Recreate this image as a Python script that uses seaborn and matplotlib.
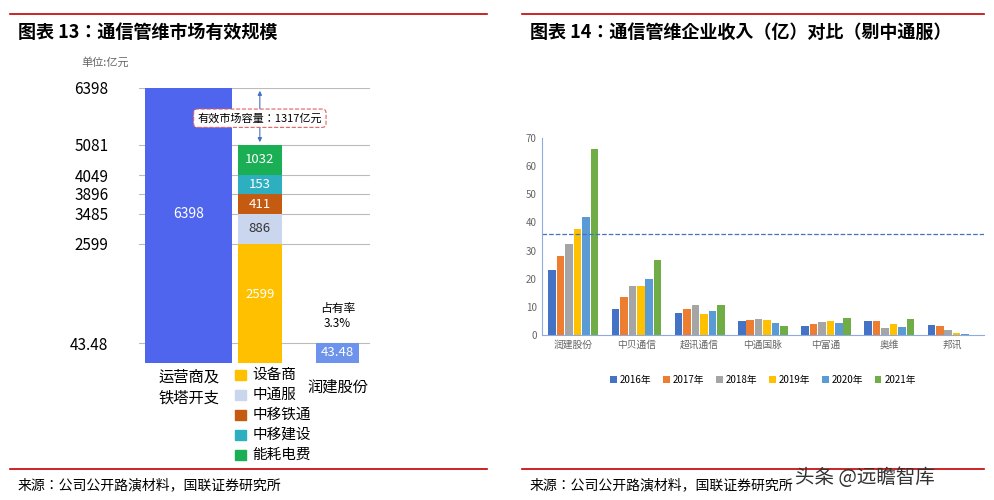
import numpy as np
import pandas as pd
import matplotlib.pyplot as plt
import seaborn as sns
from matplotlib.scale import FuncScale
from matplotlib.patches import Rectangle

plt.rcParams['font.family'] = 'sans-serif'
plt.rcParams['font.sans-serif'] = ['Noto Sans CJK JP', 'Noto Sans CJK SC', 'DejaVu Sans']
plt.rcParams['axes.unicode_minus'] = False

# 左图数据
left_ticks = [43.48, 2599, 3485, 3896, 4049, 5081, 6398]
stack_labels = ["设备商", "中通服", "中移铁通", "中移建设", "能耗电费"]
stack_values = [2599, 886, 411, 153, 1032]
stack_colors = ["#FFC000", "#C9D6EE", "#C55A11", "#2EAFC0", "#1AAF54"]
total_value = 6398
runjian_value = 43.48

# 右图数据
companies = ["润建股份", "中贝通信", "超讯通信", "中通国脉", "中富通", "奥维", "邦讯"]
years = ["2016年", "2017年", "2018年", "2019年", "2020年", "2021年"]
revenue = {
    "2016年": [23, 9.3, 7.8, 5.0, 3.3, 4.9, 3.7],
    "2017年": [28, 13.5, 9.3, 5.5, 3.9, 5.1, 3.1],
    "2018年": [32.5, 17.3, 10.8, 5.8, 4.7, 2.5, 1.7],
    "2019年": [37.5, 17.5, 7.3, 5.3, 5.1, 3.8, 0.6],
    "2020年": [42, 19.8, 8.5, 4.3, 4.3, 2.8, 0.2],
    "2021年": [66, 26.5, 10.8, 3.2, 6.2, 5.7, 0.05],
}
threshold = 36
year_colors = ["#4472C4", "#ED7D31", "#A5A5A5", "#FFC000", "#5B9BD5", "#70AD47"]

fig = plt.figure(figsize=(9.94, 5), dpi=100)
red = "#C00000"

# 标题、分隔线、来源
for x0, x1, title in [(0.01, 0.49, "图表 13：通信管维市场有效规模"),
                      (0.525, 0.99, "图表 14：通信管维企业收入（亿）对比（剔中通服）")]:
    fig.add_artist(plt.Line2D([x0, x1], [0.972, 0.972], color=red, lw=1.2))
    fig.text(x0 + 0.008, 0.935, title, fontsize=13, fontweight="bold", style="italic", va="center")
    fig.add_artist(plt.Line2D([x0, x1], [0.062, 0.062], color=red, lw=1.2))
    fig.text(x0 + 0.008, 0.03, "来源：公司公开路演材料，国联证券研究所", fontsize=10, va="center")

# ---- 左图：非线性纵轴 ----
val_pts = [0, 43.48, 2599, 3485, 3896, 4049, 5081, 6398]
pix_pts = [0, 20, 119, 149, 169, 188, 218, 275]
fwd = lambda v: np.interp(v, val_pts, pix_pts)
inv = lambda p: np.interp(p, pix_pts, val_pts)

axl = fig.add_axes([0.14, 0.274, 0.232, 0.55])
axl.set_yscale(FuncScale(axl, (fwd, inv)))
axl.set_ylim(0, total_value)
axl.set_xlim(0, 3)
axl.bar(0.64, total_value, width=1.13, color="#4F65EE")
axl.text(0.64, 3485, str(total_value), color="white", ha="center", va="center", fontsize=10)
bottom = 0
for lab, v, c in zip(stack_labels, stack_values, stack_colors):
    axl.bar(1.57, v, bottom=bottom, width=0.58, color=c)
    tc = "#333333" if lab == "中通服" else "white"
    axl.text(1.57, bottom + v / 2, str(v), color=tc, ha="center", va="center", fontsize=9.5)
    bottom += v
axl.bar(2.58, runjian_value, width=0.57, color="#6E93EC")
axl.text(2.58, runjian_value / 2, "43.48", color="white", ha="center", va="center", fontsize=9.5)
axl.text(2.58, 380, "占有率\n3.3%", ha="center", va="bottom", fontsize=8.5)
axl.set_yticks(left_ticks)
axl.set_yticklabels([str(t) for t in left_ticks], fontsize=11)
axl.yaxis.grid(True, color="#BBBBBB", lw=0.8)
axl.set_axisbelow(True)
axl.set_xticks([])
for s in ["top", "right", "bottom", "left"]:
    axl.spines[s].set_visible(False)
axl.tick_params(axis="y", length=0, pad=22)
axl.annotate("", xy=(1.57, 5081), xytext=(1.57, 6398),
             arrowprops=dict(arrowstyle="<|-|>", color="#4472C4", lw=0.8, mutation_scale=6))
axl.text(1.57, 5700, "有效市场容量：1317亿元", ha="center", va="center", fontsize=8,
         bbox=dict(boxstyle="round,pad=0.35", fc="white", ec="#E06060", ls="--", lw=0.8))
fig.text(0.082, 0.868, "单位:亿元", fontsize=8, color="#666666")
fig.text(0.19, 0.225, "运营商及\n铁塔开支", fontsize=11, ha="center", va="center", linespacing=1.3)
fig.text(0.34, 0.225, "润建股份", fontsize=11, ha="center", va="center")
for i, (lab, c) in enumerate(zip(stack_labels, stack_colors)):
    y = 0.25 - i * 0.04
    fig.add_artist(Rectangle((0.236, y - 0.01), 0.011, 0.021, color=c, transform=fig.transFigure))
    fig.text(0.254, y, lab, fontsize=10.5, va="center")

# ---- 右图：分组柱状图 ----
df = pd.DataFrame(revenue, index=companies).reset_index(names="公司")
df = df.melt(id_vars="公司", var_name="年份", value_name="收入")
axr = fig.add_axes([0.545, 0.33, 0.445, 0.394])
sns.barplot(data=df, x="公司", y="收入", hue="年份", hue_order=years,
            palette=year_colors, width=0.8, ax=axr, saturation=1, gap=0.1)
axr.axhline(threshold, color="#4472C4", ls="--", lw=0.9)
axr.set_ylim(0, 70)
axr.set_yticks(range(0, 71, 10))
axr.set_xlabel("")
axr.set_ylabel("")
axr.tick_params(labelsize=7, colors="#666666", length=0)
for s in ["top", "right"]:
    axr.spines[s].set_visible(False)
axr.spines["left"].set_color("#8FAADC")
axr.spines["bottom"].set_color("#8FAADC")
axr.legend(loc="upper center", bbox_to_anchor=(0.5, -0.16), ncol=6, frameon=False,
           fontsize=7, handlelength=0.7, handleheight=0.7, columnspacing=1.2, handletextpad=0.3)

fig.text(0.8, 0.045, "头条 @远瞻智库", fontsize=14, color="#333333", va="center")

fig.savefig("out.png", dpi=100)
